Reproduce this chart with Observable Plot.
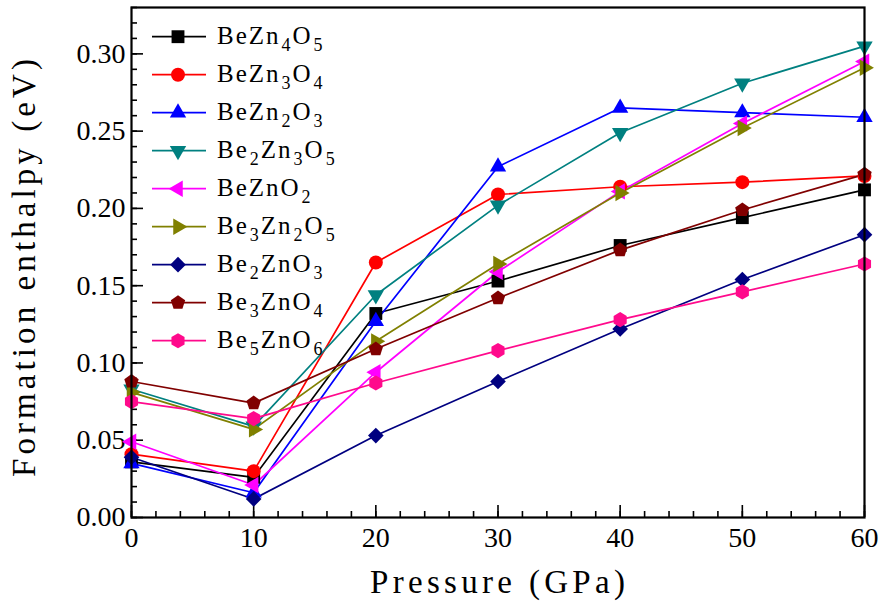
<!DOCTYPE html>
<html>
<head>
<meta charset="utf-8">
<script src="https://cdn.jsdelivr.net/npm/d3@7"></script>
<script src="https://cdn.jsdelivr.net/npm/@observablehq/plot@0.6"></script>
<style>
  html, body { margin: 0; padding: 0; background: #fff; }
  #chart svg { display: block; }
  #chart svg text { font-family: "Liberation Serif", "DejaVu Serif", serif; }
</style>
</head>
<body>
<div id="chart"></div>
<script>
// ---- data ----
const pressure = [0, 10, 20, 30, 40, 50, 60];
const seriesNames = ["BeZn4O5", "BeZn3O4", "BeZn2O3", "Be2Zn3O5", "BeZnO2", "Be3Zn2O5", "Be2ZnO3", "Be3ZnO4", "Be5ZnO6"];
const BeZn4O5  = [0.036, 0.026, 0.132, 0.153, 0.176, 0.194, 0.212];
const BeZn3O4  = [0.041, 0.030, 0.165, 0.209, 0.214, 0.217, 0.221];
const BeZn2O3  = [0.035, 0.016, 0.127, 0.227, 0.265, 0.262, 0.259];
const Be2Zn3O5 = [0.083, 0.059, 0.144, 0.202, 0.249, 0.281, 0.305];
const BeZnO2   = [0.049, 0.021, 0.094, 0.159, 0.211, 0.255, 0.295];
const Be3Zn2O5 = [0.081, 0.057, 0.114, 0.164, 0.210, 0.252, 0.291];
const Be2ZnO3  = [0.039, 0.012, 0.053, 0.088, 0.122, 0.154, 0.183];
const Be3ZnO4  = [0.088, 0.074, 0.109, 0.142, 0.173, 0.199, 0.222];
const Be5ZnO6  = [0.075, 0.064, 0.087, 0.108, 0.128, 0.146, 0.164];
const seriesValues = [BeZn4O5, BeZn3O4, BeZn2O3, Be2Zn3O5, BeZnO2, Be3Zn2O5, Be2ZnO3, Be3ZnO4, Be5ZnO6];
const seriesColors = ["#000000", "#ff0000", "#0000ff", "#008080", "#ff00ff", "#808000", "#000080", "#800000", "#ff0a8c"];
const xMajorTicks = [0, 10, 20, 30, 40, 50, 60];
const yMajorTicks = [0.00, 0.05, 0.10, 0.15, 0.20, 0.25, 0.30];
const xMinorTicks = d3.range(0, 61, 2);
const yMinorTicks = d3.range(0, 34).map(i => i / 100);

// ---- symbols ----
function poly(anglesDeg, k) {
  return {
    draw(ctx, size) {
      const R = k * Math.sqrt(size / Math.PI);
      anglesDeg.forEach((a, i) => {
        const t = a * Math.PI / 180;
        const x = R * Math.cos(t), y = R * Math.sin(t);
        if (i) ctx.lineTo(x, y); else ctx.moveTo(x, y);
      });
      ctx.closePath();
    }
  };
}
const symSquare = poly([-135, -45, 45, 135], 1.3);
const symCircle = { draw(ctx, size) { const r = Math.sqrt(size / Math.PI); ctx.moveTo(r, 0); ctx.arc(0, 0, r, 0, 2 * Math.PI); } };
const symUp = poly([-90, 30, 150], 1.35);
const symDown = poly([90, 210, 330], 1.35);
const symLeft = poly([180, 300, 60], 1.35);
const symRight = poly([0, 120, 240], 1.35);
const symDiamond = poly([-90, 0, 90, 180], 1.12);
const symPentagon = poly([-90, -18, 54, 126, 198], 1.08);
const symHexagon = poly([-90, -30, 30, 90, 150, 210], 1.08);
const seriesSymbols = [symSquare, symCircle, symUp, symDown, symLeft, symRight, symDiamond, symPentagon, symHexagon];

// ---- table ----
const rows = [];
seriesNames.forEach((name, s) => {
  pressure.forEach((p, i) => rows.push({ series: name, p, v: seriesValues[s][i] }));
});

const W = 892, H = 609;
const mL = 131, mR = 28, mT = 7, mB = 92;
const serif = "Liberation Serif, DejaVu Serif, serif";

const plot = Plot.plot({
  width: W,
  height: H,
  marginLeft: mL,
  marginRight: mR,
  marginTop: mT,
  marginBottom: mB,
  style: { background: "#fff", color: "#000" },
  x: { domain: [0, 60], label: null },
  y: { domain: [0, 0.33], label: null },
  color: { domain: seriesNames, range: seriesColors },
  symbol: { domain: seriesNames, range: seriesSymbols },
  marks: [
    Plot.axisX({ ticks: xMinorTicks, tickSize: -6, fill: "none", strokeWidth: 1.6 }),
    Plot.axisX({ ticks: xMajorTicks, tickSize: -12, fill: "none", strokeWidth: 1.6 }),
    Plot.axisX({ ticks: xMajorTicks, tickSize: 0, tickPadding: 10, fontSize: 28, fontFamily: serif, letterSpacing: 1 }),
    Plot.axisY({ ticks: yMinorTicks, tickSize: -6, fill: "none", strokeWidth: 1.6 }),
    Plot.axisY({ ticks: yMajorTicks, tickSize: 0, tickPadding: 6, tickFormat: d3.format(".2f"), fontSize: 28, fontFamily: serif, letterSpacing: 2.2 }),
    Plot.axisY({ ticks: yMajorTicks, tickSize: -12, fill: "none", strokeWidth: 1.6 }),
    Plot.line(rows, { x: "p", y: "v", z: "series", stroke: "series", strokeWidth: 1.7 }),
    Plot.dot(rows, { x: "p", y: "v", fill: "series", symbol: "series", r: 7, stroke: null }),
    Plot.frame({ stroke: "#000", strokeWidth: 2.2 })
  ]
});

const svg = d3.select(plot);

// Axis titles
svg.append("text")
  .attr("x", (mL + W - mR) / 2)
  .attr("y", 593)
  .attr("text-anchor", "middle")
  .attr("font-family", serif)
  .attr("font-size", 33)
  .attr("textLength", 255)
  .attr("lengthAdjust", "spacing")
  .attr("fill", "#000")
  .text("Pressure (GPa)");

svg.append("text")
  .attr("transform", "translate(35,268) rotate(-90)")
  .attr("text-anchor", "middle")
  .attr("font-family", serif)
  .attr("font-size", 33)
  .attr("textLength", 418)
  .attr("lengthAdjust", "spacing")
  .attr("fill", "#000")
  .text("Formation enthalpy (eV)");

// Legend
function formulaParts(name) {
  const parts = [];
  const re = /([A-Za-z]+)(\d*)/g;
  let m;
  while ((m = re.exec(name))) {
    if (!m[0]) break;
    parts.push({ t: m[1], sub: false });
    if (m[2]) parts.push({ t: m[2], sub: true });
  }
  return parts;
}
const subShift = 7;
const leg = svg.append("g");
seriesNames.forEach((name, i) => {
  const cy = 36.7 + i * 38;
  const g = leg.append("g");
  g.append("line").attr("x1", 152).attr("x2", 206).attr("y1", cy).attr("y2", cy)
    .attr("stroke", seriesColors[i]).attr("stroke-width", 1.7);
  const path = d3.path();
  seriesSymbols[i].draw(path, 49 * Math.PI);
  g.append("path").attr("d", path.toString()).attr("transform", `translate(178,${cy})`)
    .attr("fill", seriesColors[i]);
  const t = g.append("text").attr("x", 217).attr("y", cy + 7).attr("font-size", 25)
    .attr("text-anchor", "start").attr("font-family", serif)
    .attr("letter-spacing", 2).attr("fill", "#000");
  let lowered = false;
  formulaParts(name).forEach(p => {
    const ts = t.append("tspan").text(p.t);
    if (p.sub) {
      ts.attr("font-size", 18).attr("dy", subShift).attr("dx", 1);
      lowered = true;
    } else if (lowered) {
      ts.attr("dy", -subShift);
      lowered = false;
    }
  });
});

document.getElementById("chart").appendChild(plot);
</script>
</body>
</html>
